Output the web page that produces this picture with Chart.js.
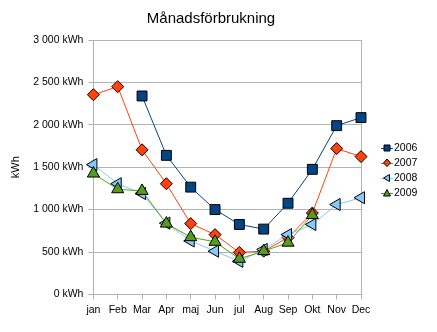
<!DOCTYPE html>
<html><head><meta charset="utf-8">
<script src="https://cdn.jsdelivr.net/npm/chart.js@4.4.0/dist/chart.umd.min.js"></script>
<style>html,body{margin:0;padding:0;background:#fff}</style>
</head><body>
<canvas id="c" width="437" height="332"></canvas>
<script>
const months = ['jan','Feb','Mar','Apr','maj','Jun','jul','Aug','Sep','Okt','Nov','Dec'];
const seriesNames = ['2006','2007','2008','2009'];
const data2006 = [null, null, 2340, 1640, 1265, 1000, 825, 770, 1075, 1475, 1990, 2085];
const data2007 = [2355, 2450, 1705, 1305, 835, 705, 495, 510, 670, 960, 1720, 1625];
const data2008 = [1530, 1305, 1190, 840, 630, 510, 390, 530, 705, 825, 1060, 1140];
const data2009 = [1425, 1240, 1220, 835, 675, 620, 420, 510, 610, 935, null, null];
const yTicks = [0, 500, 1000, 1500, 2000, 2500, 3000];
const chartTitle = 'Månadsförbrukning';

const FONT = "'Liberation Sans', Arial, sans-serif";
const colors = ['#004586', '#ff420e', '#83caff', '#579d1c'];
const styles = ['rect', 'rectRot', 'triangle', 'triangle'];
const rotations = [0, 0, -90, 0];
const radii = [7, 6, 7, 7];

function drawIcon(x, i, cx, cy) {
  x.save();
  x.strokeStyle = colors[i]; x.lineWidth = 1;
  x.beginPath(); x.moveTo(cx - 6, cy + 0.5); x.lineTo(cx + 6, cy + 0.5); x.stroke();
  x.fillStyle = colors[i]; x.strokeStyle = '#000';
  x.beginPath();
  if (i === 0) { x.rect(cx - 3, cy - 3, 6, 6); }
  else if (i === 1) { x.moveTo(cx, cy - 4); x.lineTo(cx + 3.5, cy); x.lineTo(cx, cy + 3.5); x.lineTo(cx - 3.5, cy); x.closePath(); }
  else if (i === 2) { x.moveTo(cx - 3.5, cy); x.lineTo(cx + 2.5, cy - 3.5); x.lineTo(cx + 2.5, cy + 3.5); x.closePath(); }
  else { x.moveTo(cx, cy - 3.5); x.lineTo(cx + 3.5, cy + 3); x.lineTo(cx - 3.5, cy + 3); x.closePath(); }
  x.fill(); x.stroke();
  x.restore();
}

const decor = {
  id: 'decor',
  beforeDatasetsDraw(chart) {
    const a = chart.chartArea, ctx = chart.ctx;
    ctx.save();
    ctx.strokeStyle = '#b3b3b3'; ctx.lineWidth = 1;
    ctx.beginPath();
    ctx.moveTo(Math.round(a.right) + 0.5, a.top);
    ctx.lineTo(Math.round(a.right) + 0.5, a.bottom);
    ctx.stroke();
    ctx.restore();
  },
  afterDraw(chart) {
    const ctx = chart.ctx;
    ctx.save();
    ctx.fillStyle = '#000';
    ctx.font = '15px ' + FONT;
    ctx.textAlign = 'center'; ctx.textBaseline = 'middle';
    ctx.fillText(chartTitle, 211, 19);
    ctx.font = '10.5px ' + FONT;
    ctx.textAlign = 'left';
    seriesNames.forEach((n, i) => {
      const cy = 148 + i * 15;
      drawIcon(ctx, i, 387, cy);
      ctx.fillText(n, 394, cy + 0.5);
    });
    ctx.restore();
  }
};

const allData = [data2006, data2007, data2008, data2009];
new Chart(document.getElementById('c'), {
  type: 'line',
  data: {
    labels: months,
    datasets: allData.map((d, i) => ({
      label: seriesNames[i],
      data: d,
      borderColor: colors[i],
      backgroundColor: colors[i],
      borderWidth: 1,
      pointStyle: styles[i],
      pointRotation: rotations[i],
      pointRadius: radii[i],
      pointHoverRadius: radii[i],
      pointBorderColor: '#000',
      pointBorderWidth: 1,
      pointBackgroundColor: colors[i],
      tension: 0,
      fill: false,
      order: 3 - i
    }))
  },
  options: {
    responsive: false,
    animation: false,
    layout: { padding: { left: 9, right: 76, top: 40, bottom: 12 } },
    plugins: {
      title: { display: false },
      legend: { display: false },
      tooltip: { enabled: false }
    },
    scales: {
      x: {
        offset: false,
        grid: { display: true, drawOnChartArea: false, drawTicks: true, tickLength: 5, color: '#b3b3b3' },
        border: { color: '#b3b3b3' },
        ticks: { color: '#000', font: { family: FONT, size: 10.5 }, padding: 4, maxRotation: 0, autoSkip: false }
      },
      y: {
        min: 0, max: 3000,
        afterBuildTicks(scale) { scale.ticks = yTicks.map(v => ({ value: v })); },
        grid: { color: '#b3b3b3', tickLength: 5 },
        border: { color: '#b3b3b3' },
        title: { display: true, text: 'kWh', color: '#000', font: { family: FONT, size: 11 }, padding: { top: 0, bottom: 6 } },
        ticks: {
          color: '#000', font: { family: FONT, size: 10.5 }, padding: 5,
          callback: v => String(v).replace(/\B(?=(\d{3})+(?!\d))/g, '\u00a0') + ' kWh'
        }
      }
    }
  },
  plugins: [decor]
});
</script>
</body></html>
